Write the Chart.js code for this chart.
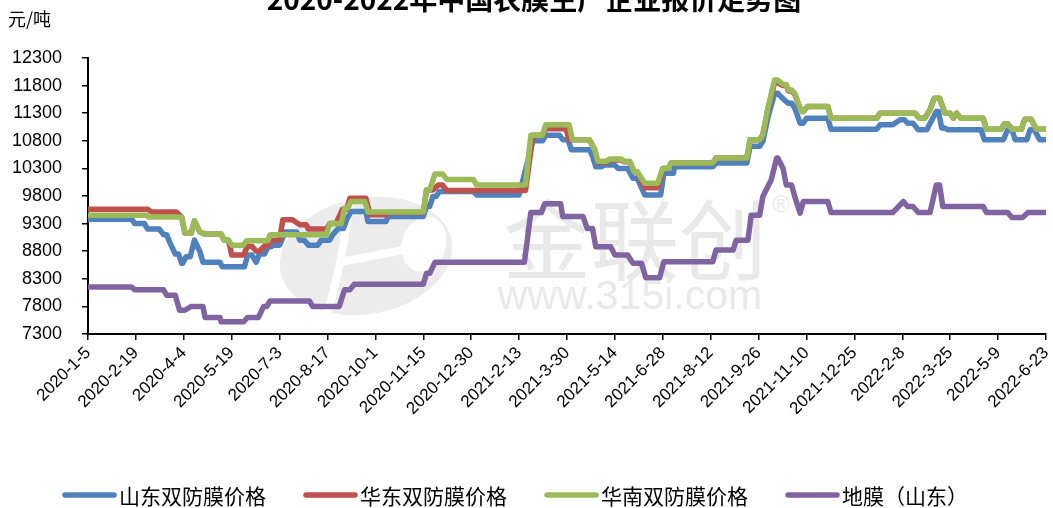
<!DOCTYPE html>
<html>
<head>
<meta charset="utf-8">
<script src="https://cdn.jsdelivr.net/npm/chart.js@4.4.0/dist/chart.umd.min.js"></script>
<style>html,body{margin:0;padding:0;background:#fff}</style>
</head>
<body>
<canvas id="myChart" width="1053" height="508"></canvas>
<script>
const title = '2020-2022年中国农膜生产企业报价走势图';
const unit = '元/吨';
const names = ['山东双防膜价格', '华东双防膜价格', '华南双防膜价格', '地膜（山东）'];
const colors = ['#4F81BD', '#C0504D', '#9BBB59', '#8064A2'];

// x axis: dates, one tick every 45 days
const startDate = '2020-01-05';
const endDate = '2022-06-23';
const tickDays = 45;
// y axis
const yMin = 7300, yMax = 12300, yStep = 500;

// [date, price] - change points
const shandong = [
  ['2020-01-05', 9380], ['2020-02-15', 9380], ['2020-02-18', 9300], ['2020-02-27', 9300],
  ['2020-03-01', 9200], ['2020-03-12', 9200], ['2020-03-16', 9100], ['2020-03-19', 9100],
  ['2020-03-22', 8950], ['2020-03-27', 8750], ['2020-03-30', 8750], ['2020-04-02', 8580],
  ['2020-04-03', 8580], ['2020-04-06', 8700], ['2020-04-10', 8700], ['2020-04-14', 9000],
  ['2020-04-19', 8800], ['2020-04-22', 8600], ['2020-05-08', 8600], ['2020-05-10', 8520],
  ['2020-05-31', 8520], ['2020-06-03', 8730], ['2020-06-07', 8730], ['2020-06-11', 8600],
  ['2020-06-14', 8750], ['2020-06-19', 8750], ['2020-06-22', 8880], ['2020-06-25', 8880],
  ['2020-06-27', 8910], ['2020-07-03', 8910], ['2020-07-05', 9000], ['2020-07-08', 9150],
  ['2020-07-19', 9150], ['2020-07-22', 9000], ['2020-07-26', 9000], ['2020-07-30', 8910],
  ['2020-08-08', 8910], ['2020-08-11', 9000], ['2020-08-19', 9000], ['2020-08-22', 9100],
  ['2020-08-27', 9210], ['2020-09-01', 9210], ['2020-09-04', 9370], ['2020-09-08', 9520],
  ['2020-09-22', 9520], ['2020-09-24', 9340], ['2020-10-11', 9340], ['2020-10-13', 9430],
  ['2020-11-15', 9430], ['2020-11-18', 9610], ['2020-11-21', 9610], ['2020-11-24', 9790],
  ['2020-11-27', 9790], ['2020-11-30', 9880], ['2021-01-01', 9880], ['2021-01-04', 9820],
  ['2021-02-13', 9820], ['2021-02-26', 10800], ['2021-03-07', 10800], ['2021-03-10', 10900],
  ['2021-03-23', 10900], ['2021-03-26', 10820], ['2021-03-31', 10820], ['2021-04-03', 10640],
  ['2021-04-20', 10640], ['2021-04-23', 10520], ['2021-04-26', 10330], ['2021-05-01', 10330],
  ['2021-05-04', 10360], ['2021-05-14', 10360], ['2021-05-17', 10300], ['2021-05-26', 10300],
  ['2021-05-31', 10120], ['2021-06-04', 10120], ['2021-06-11', 9820], ['2021-06-26', 9820],
  ['2021-06-29', 10210], ['2021-07-08', 10210], ['2021-07-09', 10330], ['2021-08-14', 10330],
  ['2021-08-17', 10400], ['2021-09-15', 10400], ['2021-09-18', 10700], ['2021-09-27', 10700],
  ['2021-09-30', 10790], ['2021-10-05', 11240], ['2021-10-11', 11660], ['2021-10-14', 11660],
  ['2021-10-20', 11540], ['2021-10-24', 11480], ['2021-10-27', 11480], ['2021-10-30', 11390],
  ['2021-11-04', 11120], ['2021-11-07', 11120], ['2021-11-10', 11210], ['2021-11-30', 11210],
  ['2021-12-03', 11010], ['2022-01-15', 11010], ['2022-01-18', 11090], ['2022-01-30', 11090],
  ['2022-02-06', 11180], ['2022-02-10', 11180], ['2022-02-13', 11120], ['2022-02-18', 11120],
  ['2022-02-23', 11000], ['2022-03-03', 11000], ['2022-03-07', 11150], ['2022-03-12', 11330],
  ['2022-03-14', 11330], ['2022-03-17', 11030], ['2022-03-20', 11030], ['2022-03-23', 11000],
  ['2022-04-23', 11000], ['2022-04-26', 10820], ['2022-05-14', 10820], ['2022-05-18', 11000],
  ['2022-05-22', 11000], ['2022-05-25', 10820], ['2022-06-05', 10820], ['2022-06-08', 11000],
  ['2022-06-12', 11000], ['2022-06-17', 10820], ['2022-06-23', 10820]
];

const huadong = [
  ['2020-01-05', 9560], ['2020-03-01', 9560], ['2020-03-05', 9510], ['2020-03-28', 9510],
  ['2020-04-02', 9420], ['2020-04-05', 9130], ['2020-04-11', 9130], ['2020-04-14', 9350],
  ['2020-04-19', 9150], ['2020-04-24', 9110], ['2020-05-09', 9110], ['2020-05-12', 9000],
  ['2020-05-16', 9000], ['2020-05-19', 8730], ['2020-05-30', 8730], ['2020-06-03', 8890],
  ['2020-06-07', 8890], ['2020-06-11', 8800], ['2020-06-14', 8800], ['2020-06-19', 8900],
  ['2020-06-22', 8900], ['2020-06-24', 9000], ['2020-07-03', 9000], ['2020-07-06', 9370],
  ['2020-07-15', 9370], ['2020-07-22', 9280], ['2020-07-28', 9280], ['2020-07-30', 9200],
  ['2020-08-16', 9200], ['2020-08-19', 9300], ['2020-08-25', 9300], ['2020-08-31', 9560],
  ['2020-09-04', 9560], ['2020-09-07', 9760], ['2020-09-22', 9760], ['2020-09-26', 9460],
  ['2020-10-11', 9460], ['2020-10-13', 9500], ['2020-11-15', 9500], ['2020-11-18', 9910],
  ['2020-11-24', 9910], ['2020-11-29', 10000], ['2020-12-03', 10000], ['2020-12-07', 9900],
  ['2021-02-19', 9900], ['2021-02-26', 10900], ['2021-03-07', 10900], ['2021-03-10', 11020],
  ['2021-03-29', 11020], ['2021-04-01', 10820], ['2021-04-20', 10820], ['2021-04-25', 10640],
  ['2021-04-28', 10410], ['2021-05-06', 10410], ['2021-05-09', 10450], ['2021-05-20', 10450],
  ['2021-05-23', 10420], ['2021-05-28', 10420], ['2021-06-01', 10240], ['2021-06-04', 10240],
  ['2021-06-11', 9950], ['2021-06-23', 9950], ['2021-06-28', 10300], ['2021-07-03', 10300],
  ['2021-07-06', 10400], ['2021-08-14', 10400], ['2021-08-17', 10490], ['2021-09-15', 10490],
  ['2021-09-18', 10820], ['2021-09-27', 10820], ['2021-09-30', 10910], ['2021-10-05', 11400],
  ['2021-10-11', 11850], ['2021-10-14', 11850], ['2021-10-19', 11800], ['2021-10-22', 11800],
  ['2021-10-24', 11700], ['2021-10-27', 11700], ['2021-10-30', 11640], ['2021-11-05', 11330],
  ['2021-11-07', 11330], ['2021-11-11', 11420], ['2021-11-30', 11420], ['2021-12-03', 11210],
  ['2022-01-15', 11210], ['2022-01-18', 11300], ['2022-02-20', 11300], ['2022-02-24', 11210],
  ['2022-03-01', 11210], ['2022-03-06', 11360], ['2022-03-10', 11570], ['2022-03-15', 11570],
  ['2022-03-20', 11300], ['2022-03-25', 11300], ['2022-03-28', 11210], ['2022-03-31', 11300],
  ['2022-04-04', 11210], ['2022-04-25', 11210], ['2022-04-28', 11010], ['2022-05-12', 11010],
  ['2022-05-15', 11110], ['2022-05-18', 11110], ['2022-05-22', 11010], ['2022-05-31', 11010],
  ['2022-06-03', 11190], ['2022-06-09', 11190], ['2022-06-14', 11010], ['2022-06-23', 11010]
];

const huanan = [
  ['2020-01-05', 9450], ['2020-02-29', 9450], ['2020-03-02', 9420], ['2020-04-02', 9420],
  ['2020-04-05', 9130], ['2020-04-11', 9130], ['2020-04-14', 9350], ['2020-04-19', 9150],
  ['2020-04-24', 9110], ['2020-05-09', 9110], ['2020-05-12', 9000], ['2020-05-16', 9000],
  ['2020-05-19', 8910], ['2020-05-30', 8910], ['2020-06-02', 8990], ['2020-06-22', 8990],
  ['2020-06-24', 9100], ['2020-08-16', 9100], ['2020-08-19', 9300], ['2020-08-30', 9300],
  ['2020-09-02', 9580], ['2020-09-05', 9580], ['2020-09-08', 9700], ['2020-09-21', 9700],
  ['2020-09-24', 9510], ['2020-11-15', 9510], ['2020-11-18', 9910], ['2020-11-21', 9910],
  ['2020-11-26', 10200], ['2020-12-03', 10200], ['2020-12-07', 10100], ['2021-01-01', 10100],
  ['2021-01-04', 10000], ['2021-02-19', 10000], ['2021-02-24', 10900], ['2021-03-07', 10900],
  ['2021-03-10', 11090], ['2021-04-01', 11090], ['2021-04-04', 10820], ['2021-04-20', 10820],
  ['2021-04-25', 10640], ['2021-04-28', 10430], ['2021-05-06', 10430], ['2021-05-09', 10470],
  ['2021-05-20', 10470], ['2021-05-23', 10430], ['2021-05-28', 10430], ['2021-06-01', 10240],
  ['2021-06-04', 10240], ['2021-06-11', 10030], ['2021-06-23', 10030], ['2021-06-28', 10300],
  ['2021-07-03', 10300], ['2021-07-06', 10400], ['2021-08-14', 10400], ['2021-08-17', 10490],
  ['2021-09-15', 10490], ['2021-09-18', 10820], ['2021-09-27', 10820], ['2021-09-30', 10910],
  ['2021-10-05', 11420], ['2021-10-11', 11900], ['2021-10-14', 11900], ['2021-10-19', 11820],
  ['2021-10-22', 11820], ['2021-10-24', 11720], ['2021-10-27', 11720], ['2021-10-30', 11660],
  ['2021-11-05', 11330], ['2021-11-07', 11330], ['2021-11-11', 11420], ['2021-11-30', 11420],
  ['2021-12-03', 11210], ['2022-01-15', 11210], ['2022-01-18', 11300], ['2022-02-20', 11300],
  ['2022-02-24', 11210], ['2022-03-01', 11210], ['2022-03-06', 11360], ['2022-03-10', 11570],
  ['2022-03-15', 11570], ['2022-03-20', 11300], ['2022-03-25', 11300], ['2022-03-28', 11210],
  ['2022-03-31', 11300], ['2022-04-04', 11210], ['2022-04-25', 11210], ['2022-04-28', 11010],
  ['2022-05-12', 11010], ['2022-05-15', 11110], ['2022-05-18', 11110], ['2022-05-22', 11010],
  ['2022-05-31', 11010], ['2022-06-03', 11190], ['2022-06-09', 11190], ['2022-06-14', 11010],
  ['2022-06-23', 11010]
];

const dimo = [
  ['2020-01-05', 8150], ['2020-02-15', 8150], ['2020-02-18', 8100], ['2020-03-16', 8100],
  ['2020-03-19', 8000], ['2020-03-27', 8000], ['2020-03-31', 7730], ['2020-04-05', 7730],
  ['2020-04-11', 7800], ['2020-04-22', 7800], ['2020-04-24', 7600], ['2020-05-08', 7600],
  ['2020-05-09', 7520], ['2020-05-30', 7520], ['2020-06-03', 7600], ['2020-06-13', 7600],
  ['2020-06-18', 7800], ['2020-06-21', 7800], ['2020-06-24', 7900], ['2020-07-31', 7900],
  ['2020-08-03', 7800], ['2020-08-28', 7800], ['2020-09-02', 8100], ['2020-09-07', 8100],
  ['2020-09-11', 8200], ['2020-11-15', 8200], ['2020-11-18', 8400], ['2020-11-21', 8400],
  ['2020-11-26', 8600], ['2021-02-18', 8600], ['2021-02-24', 9500], ['2021-03-06', 9500],
  ['2021-03-09', 9660], ['2021-03-24', 9660], ['2021-03-26', 9430], ['2021-04-14', 9430],
  ['2021-04-18', 9210], ['2021-04-23', 9210], ['2021-04-26', 8880], ['2021-05-10', 8880],
  ['2021-05-14', 8730], ['2021-05-26', 8730], ['2021-05-31', 8580], ['2021-06-08', 8580],
  ['2021-06-12', 8320], ['2021-06-25', 8320], ['2021-06-29', 8610], ['2021-08-14', 8610],
  ['2021-08-17', 8820], ['2021-09-02', 8820], ['2021-09-05', 9000], ['2021-09-16', 9000],
  ['2021-09-19', 9450], ['2021-09-27', 9450], ['2021-09-30', 9790], ['2021-10-08', 10100],
  ['2021-10-13', 10490], ['2021-10-14', 10490], ['2021-10-19', 10300], ['2021-10-22', 10000],
  ['2021-10-27', 10000], ['2021-10-30', 9790], ['2021-11-04', 9490], ['2021-11-07', 9700],
  ['2021-11-30', 9700], ['2021-12-03', 9500], ['2022-01-30', 9500], ['2022-02-09', 9700],
  ['2022-02-13', 9610], ['2022-02-18', 9610], ['2022-02-23', 9500], ['2022-03-06', 9500],
  ['2022-03-12', 10000], ['2022-03-15', 10000], ['2022-03-18', 9610], ['2022-04-25', 9610],
  ['2022-04-28', 9500], ['2022-05-18', 9500], ['2022-05-22', 9410], ['2022-06-01', 9410],
  ['2022-06-06', 9500], ['2022-06-23', 9500]
];

const DAY = 86400000;
function utc(s) {
    const p = s.split('-').map(Number);
    return Date.UTC(p[0], p[1] - 1, p[2]);
}
function toDay(s) {
    return Math.round((utc(s) - utc(startDate)) / DAY);
}
function dayLabel(d) {
    const t = new Date(utc(startDate) + d * DAY);
    return t.getUTCFullYear() + '-' + (t.getUTCMonth() + 1) + '-' + t.getUTCDate();
}
function points(series) {
    return series.map(p => ({x: toDay(p[0]), y: p[1]}));
}

const allSeries = [shandong, huadong, huanan, dimo];
const datasets = allSeries.map((s, i) => ({
    label: names[i],
    data: points(s),
    borderColor: colors[i],
    backgroundColor: colors[i],
    borderWidth: 5.5,
    borderJoinStyle: 'round',
    borderCapStyle: 'round',
    pointRadius: 0,
    tension: 0,
    order: 4 - i   // later series drawn on top, like the original
}));

const cjk = '"Noto Sans CJK SC", sans-serif';

// watermark, title, unit label and legend
const decor = {
    id: 'decor',
    beforeDatasetsDraw(chart) {
        const ctx = chart.ctx;
        ctx.save();
        ctx.fillStyle = '#ececec';
        ctx.beginPath();
        ctx.ellipse(366, 256, 87, 58, -0.18, 0, Math.PI * 2);
        ctx.fill();
        ctx.fillStyle = '#fff';
        ctx.beginPath();
        ctx.ellipse(424, 244, 22, 28, 0.3, 0, Math.PI * 2);
        ctx.fill();
        ctx.strokeStyle = '#fff';
        ctx.lineWidth = 8;
        ctx.lineCap = 'round';
        ctx.beginPath();
        ctx.moveTo(350, 198);
        ctx.quadraticCurveTo(342, 268, 326, 316);
        ctx.stroke();
        ctx.beginPath();
        ctx.moveTo(340, 262);
        ctx.lineTo(404, 250);
        ctx.stroke();

        ctx.fillStyle = '#e9e9e9';
        ctx.textAlign = 'center';
        ctx.textBaseline = 'middle';
        ctx.font = '88px ' + cjk;
        ctx.fillText('金联创', 635, 240);
        ctx.font = '41px "Liberation Sans", sans-serif';
        ctx.textBaseline = 'alphabetic';
        ctx.fillText('www.315i.com', 630, 309);
        ctx.font = '24px "Liberation Sans", sans-serif';
        ctx.fillText('®', 781, 212);
        ctx.restore();
    },
    afterDraw(chart) {
        const ctx = chart.ctx;
        ctx.save();
        ctx.fillStyle = '#000';
        ctx.textAlign = 'center';
        ctx.textBaseline = 'alphabetic';
        ctx.font = 'bold 28px ' + cjk;
        ctx.fillText(title, 534, 10);

        ctx.textAlign = 'left';
        ctx.font = '18px ' + cjk;
        ctx.fillText(unit, 8, 26);

        // legend
        let x = 62;
        const y = 495;
        ctx.font = '21px ' + cjk;
        ctx.textBaseline = 'middle';
        chart.data.datasets.forEach(ds => {
            ctx.strokeStyle = ds.borderColor;
            ctx.lineWidth = 5.5;
            ctx.lineCap = 'round';
            ctx.beginPath();
            ctx.moveTo(x + 3, y);
            ctx.lineTo(x + 52, y);
            ctx.stroke();
            ctx.fillStyle = '#000';
            ctx.fillText(ds.label, x + 57, y + 1);
            x += 57 + ctx.measureText(ds.label).width + 37;
        });
        ctx.restore();
    }
};

const tickFont = {family: '"Liberation Sans", Arial, sans-serif', size: 17};

const config = {
    type: 'line',
    data: {datasets: datasets},
    options: {
        responsive: false,
        animation: false,
        events: [],
        layout: {padding: {left: 0, right: 7, top: 58, bottom: 0}},
        plugins: {
            legend: {display: false},
            tooltip: {enabled: false},
            title: {display: false}
        },
        scales: {
            x: {
                type: 'linear',
                min: 0,
                max: toDay(endDate),
                ticks: {
                    stepSize: tickDays,
                    autoSkip: false,
                    maxRotation: 45,
                    minRotation: 45,
                    color: '#000',
                    font: tickFont,
                    padding: 3,
                    callback: v => dayLabel(v)
                },
                grid: {drawOnChartArea: false, drawTicks: true, tickLength: 6, color: '#000', lineWidth: 1.5},
                border: {display: true, color: '#000', width: 2},
                afterFit(s) {
                    s.height = 174;
                    s.paddingLeft = 0;
                    s.paddingRight = 0;
                }
            },
            y: {
                min: yMin,
                max: yMax,
                ticks: {
                    stepSize: yStep,
                    color: '#000',
                    font: {family: tickFont.family, size: 18},
                    padding: 20,
                    callback: v => String(v)
                },
                grid: {drawOnChartArea: false, drawTicks: true, tickLength: 6, color: '#000', lineWidth: 1.5},
                border: {display: true, color: '#000', width: 2},
                afterFit(s) {
                    s.width = 88;
                    s.paddingTop = 0;
                    s.paddingBottom = 0;
                }
            }
        }
    },
    plugins: [decor]
};

const myChart = new Chart(document.getElementById('myChart'), config);
</script>
</body>
</html>
